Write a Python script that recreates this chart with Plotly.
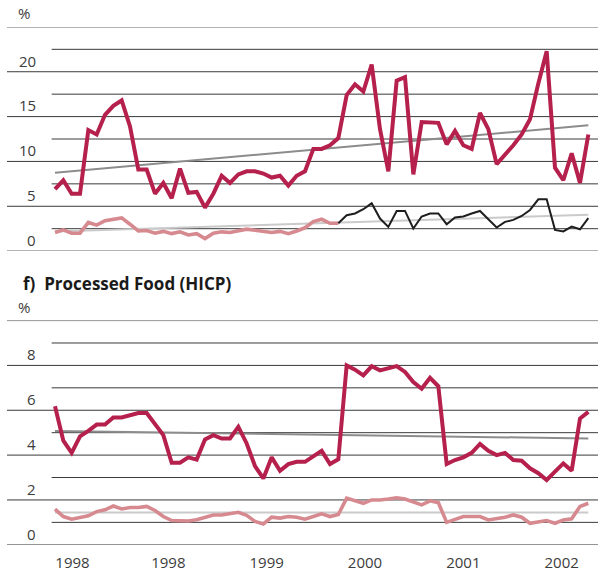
import plotly.graph_objects as go

# ---- data (monthly observations, index 0 = first month) ----
top_main = [6.9, 7.9, 6.4, 6.4, 13.5, 13.0, 15.2, 16.2, 16.8, 13.9, 9.1, 9.1, 6.4, 7.6, 5.9,
            9.2, 6.5, 6.6, 4.85, 6.4, 8.4, 7.6, 8.55, 8.9, 8.9, 8.65, 8.2, 8.4, 7.3, 8.4,
            8.9, 11.4, 11.4, 11.8, 12.6, 17.4, 18.6, 17.8, 20.8, 13.6, 8.9, 19.0, 19.4, 8.55,
            14.4, 14.4, 14.3, 11.9, 13.4, 11.8, 11.4, 15.4, 13.6, 9.7, 10.7, 11.8, 13.0, 14.7,
            18.7, 22.3, 9.3, 7.9, 10.9, 7.6, 13.0]
top_second_a = [2.07, 2.37, 2.0, 2.0, 3.2, 2.9, 3.4, 3.5, 3.7, 3.0, 2.25, 2.3, 2.0, 2.2, 1.95,
                2.15, 1.8, 1.95, 1.4, 2.0, 2.15, 2.07, 2.25, 2.45, 2.33, 2.2, 2.07, 2.2, 1.95,
                2.25, 2.6, 3.3, 3.55, 3.1, 3.1]
top_second_b = [3.1, 4.0, 4.2, 4.67, 5.33, 3.63, 2.7, 4.48, 4.48, 2.52, 3.86, 4.2, 4.2, 3.0,
                3.74, 3.86, 4.2, 4.48, 3.56, 2.63, 3.26, 3.48, 3.92, 4.59, 5.78, 5.78, 2.37,
                2.19, 2.74, 2.44, 3.67]
top_trend_main = [8.74, 14.03]
top_trend_second = [2.2, 4.05]

bot_main = [6.18, 4.64, 4.1, 4.84, 5.08, 5.36, 5.36, 5.68, 5.68, 5.78, 5.88, 5.88, 5.41, 4.89,
            3.66, 3.66, 3.9, 3.8, 4.7, 4.89, 4.74, 4.74, 5.26, 4.52, 3.51, 2.96, 3.9, 3.3, 3.6,
            3.7, 3.7, 3.93, 4.19, 3.6, 3.81, 8.0, 7.81, 7.56, 7.96, 7.78, 7.88, 7.97, 7.71,
            7.26, 6.96, 7.45, 7.07, 3.6, 3.78, 3.9, 4.1, 4.5, 4.19, 4.0, 4.1, 3.78, 3.75, 3.41,
            3.19, 2.89, 3.26, 3.63, 3.3, 5.63, 5.93]
bot_second = [1.59, 1.26, 1.14, 1.23, 1.29, 1.48, 1.56, 1.73, 1.6, 1.66, 1.66, 1.71, 1.53, 1.26,
              1.08, 1.07, 1.06, 1.12, 1.23, 1.33, 1.33, 1.41, 1.45, 1.31, 1.04, 0.93, 1.23,
              1.19, 1.26, 1.23, 1.14, 1.26, 1.38, 1.26, 1.35, 2.08, 1.97, 1.85, 2.0, 2.0, 2.04,
              2.1, 2.04, 1.9, 1.78, 1.96, 1.88, 1.0, 1.11, 1.26, 1.26, 1.26, 1.11, 1.16, 1.23,
              1.33, 1.23, 0.96, 1.01, 1.08, 0.96, 1.11, 1.16, 1.71, 1.85]
bot_trend_main = [5.08, 4.74]
bot_trend_second = [1.44, 1.44]

year_pos = [2.1, 13.6, 25.4, 37.2, 49.0, 60.8]
year_text = ["1998", "1998", "1999", "2000", "2001", "2002"]

top_labels = [0, 5, 10, 15, 20]
bot_labels = [0, 2, 4, 6, 8]

# ---- styling ----
W, H = 598, 572
ML = 7
CRIMSON = "#B5204D"
PINK = "#D68A90"
BLACK = "#1e1e1e"
DARK_TREND = "#8c8c8c"
LIGHT_TREND = "#cacaca"
GRID = "#3a3a3a"
FONT = "Open Sans"
TEXT = "#3c3c3c"

X_RANGE = [-5.76, 65.16]
SHORT_START = -0.4
n = len(top_main)
months = list(range(n))
ends = [0, n - 1]


def py(px):
    return 1 - px / H


fig = go.Figure()


def add_line(x, y, color, width, xa, ya):
    fig.add_trace(go.Scatter(x=x, y=y, mode="lines", xaxis=xa, yaxis=ya,
                             line=dict(color=color, width=width), hoverinfo="skip",
                             showlegend=False))


# top panel
add_line(ends, top_trend_main, DARK_TREND, 2, "x", "y")
add_line(ends, top_trend_second, LIGHT_TREND, 2, "x", "y")
add_line(months[:len(top_second_a)], top_second_a, PINK, 3.6, "x", "y")
add_line(months[n - len(top_second_b):], top_second_b, BLACK, 2, "x", "y")
add_line(months, top_main, CRIMSON, 4, "x", "y")

# bottom panel
add_line(ends, bot_trend_main, DARK_TREND, 2, "x2", "y2")
add_line(ends, bot_trend_second, LIGHT_TREND, 2, "x2", "y2")
add_line(months, bot_second, PINK, 3.6, "x2", "y2")
add_line(months, bot_main, CRIMSON, 4, "x2", "y2")

shapes = []


def grid(yref, xref, step, top):
    k = 0
    v = 0.0
    while v <= top + 1e-9:
        if k % 2 == 0:
            shapes.append(dict(type="line", xref=xref + " domain", yref=yref, x0=0, x1=1,
                               y0=v, y1=v, line=dict(color=GRID, width=1), layer="below"))
        else:
            shapes.append(dict(type="line", xref=xref, yref=yref, x0=SHORT_START, x1=X_RANGE[1],
                               y0=v, y1=v, line=dict(color=GRID, width=1), layer="below"))
        k += 1
        v = k * step


grid("y", "x", 2.5, 25)
grid("y2", "x2", 1.0, 10)

annotations = []
lab_x = (38 - ML) / (W - ML)
for v in top_labels:
    annotations.append(dict(text=str(v), xref="paper", yref="y", x=lab_x, y=v + 1.25,
                            xanchor="right", yanchor="middle", showarrow=False,
                            font=dict(family=FONT, size=15, color=TEXT)))
for v in bot_labels:
    annotations.append(dict(text=str(v), xref="paper", yref="y2", x=lab_x, y=v + 0.5,
                            xanchor="right", yanchor="middle", showarrow=False,
                            font=dict(family=FONT, size=15, color=TEXT)))

pct_x = (24 - ML) / (W - ML)
for ypx in (13, 308):
    annotations.append(dict(text="%", xref="paper", yref="paper", x=pct_x, y=py(ypx),
                            xanchor="center", yanchor="middle", showarrow=False,
                            font=dict(family=FONT, size=15, color=TEXT)))

annotations.append(dict(text="<b>f)\u00a0 Processed Food (HICP)</b>", xref="paper", yref="paper",
                        x=(21 - ML) / (W - ML), y=py(284), xanchor="left", yanchor="middle",
                        showarrow=False, font=dict(family=FONT, size=17, color="#1a1a1a")))

axis_common = dict(showgrid=False, zeroline=False, showline=False, range=X_RANGE,
                   domain=[0, 1], fixedrange=True)

fig.update_layout(
    width=W, height=H,
    margin=dict(l=ML, r=0, t=0, b=0),
    paper_bgcolor="white", plot_bgcolor="white",
    showlegend=False,
    xaxis=dict(**axis_common, showticklabels=False, anchor="y"),
    xaxis2=dict(**axis_common, anchor="y2", tickmode="array", tickvals=year_pos,
                ticktext=year_text, ticks="outside", ticklen=4, tickcolor="rgba(0,0,0,0)",
                tickfont=dict(family=FONT, size=15, color=TEXT)),
    yaxis=dict(range=[0, 25], domain=[py(252), py(27)], showgrid=False, zeroline=False,
               showticklabels=False, fixedrange=True),
    yaxis2=dict(range=[0, 10], domain=[py(546.7), py(321.7)], showgrid=False, zeroline=False,
                showticklabels=False, fixedrange=True),
    shapes=shapes,
    annotations=annotations,
)

fig.write_html("out.html")
